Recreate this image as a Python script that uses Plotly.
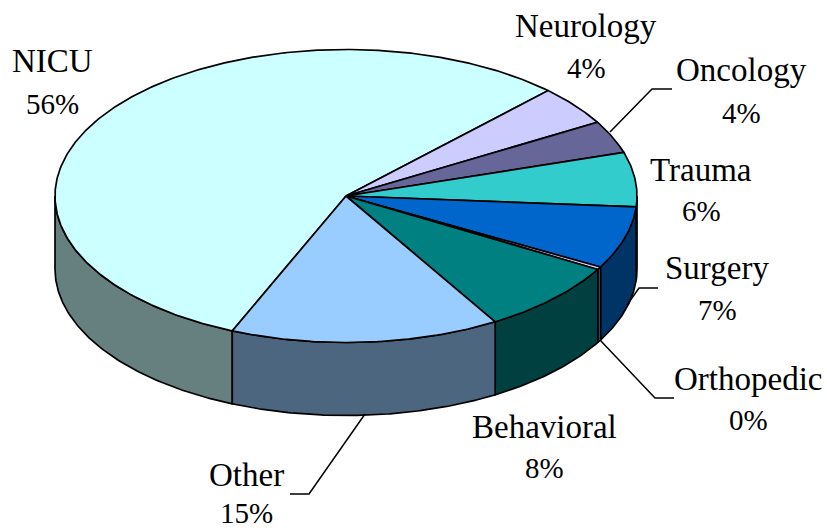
import numpy as np
import plotly.graph_objects as go

labels = ["NICU", "Neurology", "Oncology", "Trauma", "Surgery", "Orthopedic", "Behavioral", "Other"]
values = [56.0, 4.4, 3.6, 6.0, 6.9, 0.3, 8.1, 15.0]
top_colors = ["#CCFFFF", "#CCCCFF", "#666699", "#33CCCC", "#0066CC", "#CCCCFF", "#008080", "#99CCFF"]
wall_colors = ["#66807F", "#666680", "#333350", "#1A6666", "#003366", "#666680", "#004040", "#4D6680"]

# Geometry of the projected pie (screen pixels)
CX, CY, RX, RY, DEPTH = 346.0, 196.0, 291.0, 146.5, 73.0
START = 203.0
FONT = "Liberation Serif"
FS_NAME = 33
FS_PCT = 29
LINE = 1.7

name_pos = {"NICU": (52, 61), "Neurology": (586, 26), "Oncology": (741, 70), "Trauma": (701, 170),
            "Surgery": (717, 268), "Orthopedic": (748, 379), "Behavioral": (544, 427), "Other": (246, 475)}
pct_pos = {"NICU": (52, 104), "Neurology": (586, 68), "Oncology": (741, 113), "Trauma": (701, 211),
           "Surgery": (717, 310), "Orthopedic": (748, 420), "Behavioral": (544, 468), "Other": (246, 513)}
leaders = {"Oncology": [(610, 132), (652, 89), (672, 89)],
           "Surgery": [(627, 305), (639, 288), (658, 288)],
           "Orthopedic": [(600, 340), (655, 398), (674, 398)],
           "Other": [(365, 414), (309, 494), (290, 494)]}


def rim(a0, a1):
    t = np.radians(np.linspace(a0, a1, max(2, int(abs(a1 - a0) * 2) + 1)))
    return CX + RX * np.sin(t), CY - RY * np.cos(t)


total = sum(values)
edges = START + np.cumsum([0] + values) * 360.0 / total
fig = go.Figure()

# Side walls: only the front half of the rim (90..270 degrees, also modulo 360) is visible
for i, lab in enumerate(labels):
    for shift in (0, -360):
        a0, a1 = max(edges[i] + shift, 90), min(edges[i + 1] + shift, 270)
        if a1 > a0:
            x, y = rim(a0, a1)
            fig.add_trace(go.Scatter(x=np.r_[x, x[::-1], x[0]], y=np.r_[y, y[::-1] + DEPTH, y[0]],
                                     mode="lines", fill="toself", fillcolor=wall_colors[i],
                                     line=dict(color="black", width=LINE), hoverinfo="skip"))

# Top faces
for i, lab in enumerate(labels):
    x, y = rim(edges[i], edges[i + 1])
    fig.add_trace(go.Scatter(x=np.r_[CX, x, CX], y=np.r_[CY, y, CY], mode="lines", fill="toself",
                             fillcolor=top_colors[i], line=dict(color="black", width=LINE),
                             name=lab, hoverinfo="skip"))

for lab, pts in leaders.items():
    fig.add_trace(go.Scatter(x=[p[0] for p in pts], y=[p[1] for p in pts], mode="lines",
                             line=dict(color="black", width=1.5), hoverinfo="skip"))

anns = []
for lab, v in zip(labels, values):
    for text, pos, fs in ((lab, name_pos[lab], FS_NAME), (f"{round(v / total * 100)}%", pct_pos[lab], FS_PCT)):
        anns.append(dict(x=pos[0], y=pos[1], text=text, showarrow=False, xanchor="center", yanchor="middle",
                         font=dict(family=FONT, size=fs, color="black")))

fig.update_layout(width=827, height=531, margin=dict(l=0, r=0, t=0, b=0), showlegend=False,
                  paper_bgcolor="white", plot_bgcolor="white", annotations=anns,
                  xaxis=dict(range=[0, 827], visible=False, fixedrange=True),
                  yaxis=dict(range=[531, 0], visible=False, fixedrange=True))
fig.write_html("out.html", config={"displayModeBar": False},
               post_script="document.body.style.margin='0';document.body.style.overflow='hidden';")
